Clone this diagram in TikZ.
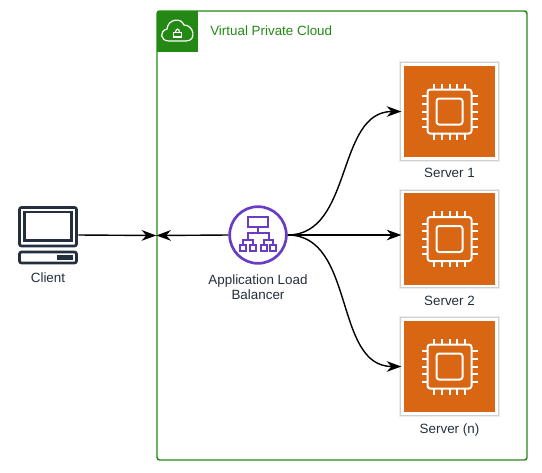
\documentclass[tikz,border=0pt]{standalone}
\usepackage{fontspec}
\setmainfont{Liberation Sans}
\usepackage{xcolor}
\usetikzlibrary{%
	arrows.meta,%
	calc,%
	shadows
}
\definecolor{vpcgreen}{HTML}{248814}
\definecolor{srvorange}{HTML}{D86613}
\definecolor{albpurple}{HTML}{693CC5}
\definecolor{inkdark}{HTML}{232F3E}
\tikzset{
	lbl/.style={text=inkdark, font=\fontsize{10.05pt}{11.6pt}\selectfont, align=center, inner sep=0pt},
	srvbox/.style={draw=white, line width=2pt, fill=srvorange, minimum size=70.3pt, inner sep=0pt,
		general shadow={shadow scale=1.075, opacity=.07, fill=black},
		general shadow={shadow scale=1.05, opacity=.12, fill=black}},
	chipline/.style={draw=white, line width=1.5pt},
	conn/.style={-{Stealth[length=11pt,width=8pt]}, line width=1.05pt, black}
}
\begin{document}
\begin{tikzpicture}[x=0.75pt,y=-0.75pt]
	\useasboundingbox (0,0) rectangle (542,472);
	%vpc frame
	\node [draw=vpcgreen, line width=1.1pt, rounded corners=2pt, minimum width=277.5pt, minimum height=336.75pt, inner sep=0pt] (vpc) at (342,235.5) {};
	\fill [vpcgreen] (156.5,10.5) rectangle (198,52);
	\begin{scope}[draw=white, line width=0.9pt]
		\draw (169,41) .. controls (160,41) and (159,31) .. (167,29) .. controls (168,19) and (181,17) .. (184,25) .. controls (194,25) and (197,41) .. (186,41) -- cycle;
		\draw (173.5,32.5) rectangle (181.5,37);
		\draw (175.5,32.5) .. controls (175.5,28) and (179.5,28) .. (179.5,32.5);
	\end{scope}
	\node [anchor=mid west, text=vpcgreen, font=\fontsize{10.05pt}{11.6pt}\selectfont, inner sep=0pt] (vpclabel) at (210,31.5) {Virtual Private Cloud};
	%client
	\node [minimum width=45pt, minimum height=43.5pt, inner sep=0pt] (client) at (48,235) {};
	\begin{scope}[draw=inkdark, line width=2pt]
		\draw [rounded corners=1.5pt] (19.5,207.5) rectangle (76.5,246);
		\draw (24.5,212) rectangle (71.5,240.5);
		\draw [rounded corners=1.5pt] (19.5,252) rectangle (76.5,263);
		\fill [inkdark] (57,255) rectangle (73,259.5);
	\end{scope}
	\node [lbl] (clientlabel) at (48,277.5) {Client};
	%load balancer
	\node [circle, draw=albpurple, line width=2pt, fill=white, minimum size=42.5pt, inner sep=0pt] (alb) at (258,235) {};
	\begin{scope}[draw=albpurple, line width=1.5pt]
		\draw (248,216.5) rectangle (268,227);
		\draw (258,227) -- (258,232.5);
		\draw (248,240) -- (248,232.5) -- (268.5,232.5) -- (268.5,240);
		\draw (243,245) -- (243,240) -- (252.5,240) -- (252.5,245);
		\draw (263.5,245) -- (263.5,240) -- (273,240) -- (273,245);
		\foreach \x in {240,249.5,260.5,270} {
			\draw (\x,245) rectangle ++(6,6);
		}
	\end{scope}
	\node [lbl] (alblabel) at (258,287) {Application Load\\Balancer};
	%servers
	\foreach \i/\name [count=\j from 0] in {1/Server 1,2/Server 2,3/Server (n)} {
		\node [srvbox] (srv\i) at (449.5,111.5+\j*127.5) {};
		\begin{scope}[shift={(srv\i.center)}]
			\draw [chipline, rounded corners=2pt] (-22,-22) rectangle (22,22);
			\draw [chipline, rounded corners=2pt] (-13,-13) rectangle (13,13);
			\foreach \p in {-15.2,-7.6,0,7.6,15.2} {
				\draw [chipline] (\p,-22) -- (\p,-28);
				\draw [chipline] (\p,22) -- (\p,28);
				\draw [chipline] (-22,\p) -- (-28,\p);
				\draw [chipline] (22,\p) -- (28,\p);
			}
		\end{scope}
		\node [lbl, anchor=base] (srvlabel\i) at (449.5,177+\j*128) {\name};
	}
	%connectors
	\draw [conn] (client.east) -- (vpc.west);
	\draw [conn] (alb.west) -- (vpc.west);
	\draw [conn] (alb.east) to [out=0, in=180, looseness=1] (srv1.west);
	\draw [conn] (alb.east) -- (alb.east -| srv2.west);
	\draw [conn] (alb.east) to [out=0, in=180, looseness=1] (srv3.west);
\end{tikzpicture}
\end{document}
